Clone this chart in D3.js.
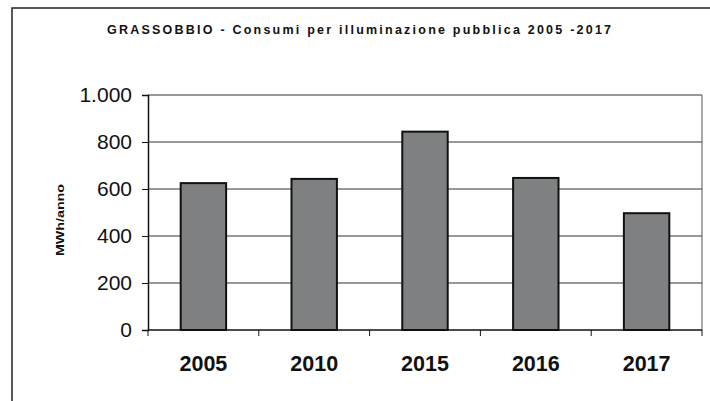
<!DOCTYPE html>
<html><head><meta charset="utf-8">
<script src="https://cdn.jsdelivr.net/npm/d3@7"></script>
<style>body{margin:0;background:#fff}svg{display:block}</style>
</head><body>
<script>
const categories = ["2005","2010","2015","2016","2017"];
const values = [625, 643, 844, 647, 497];
const yTicks = [0,200,400,600,800,1000];
const titleText = "GRASSOBBIO - Consumi per illuminazione pubblica 2005 -2017";
const yLabel = "MWh/anno";

const W=710,H=401;
const svg=d3.select("body").append("svg").attr("width",W).attr("height",H);
const m={left:148,right:702,top:95,bottom:330};

// outer frame
svg.append("rect").attr("x",12).attr("y",8).attr("width",720).attr("height",420)
  .attr("fill","#fff").attr("stroke","#222").attr("stroke-width",1.5);

svg.append("text").attr("x",359).attr("y",33.5).attr("text-anchor","middle")
  .attr("font-family","Liberation Sans, Arial, sans-serif").attr("font-weight","bold")
  .attr("font-size",12.5).attr("fill","#111")
  .attr("textLength",504).attr("lengthAdjust","spacing").text(titleText);

const x=d3.scaleBand().domain(categories).range([m.left,m.right]).paddingInner(0.59).paddingOuter(0.295);
const y=d3.scaleLinear().domain([0,1000]).range([m.bottom,m.top]);

// gridlines
svg.append("g").selectAll("line").data(yTicks.filter(d=>d>0)).join("line")
  .attr("x1",m.left).attr("x2",m.right).attr("y1",d=>y(d)).attr("y2",d=>y(d))
  .attr("stroke","#333").attr("stroke-width",1);
// right border
svg.append("line").attr("x1",m.right).attr("x2",m.right).attr("y1",m.top).attr("y2",m.bottom)
  .attr("stroke","#555").attr("stroke-width",1);

// bars
svg.append("g").selectAll("rect").data(values).join("rect")
  .attr("x",(d,i)=>x(categories[i])).attr("width",x.bandwidth())
  .attr("y",d=>y(d)).attr("height",d=>y(0)-y(d))
  .attr("fill","#7e8081").attr("stroke","#111").attr("stroke-width",2);

// y axis
const ya=svg.append("g").attr("transform",`translate(${m.left},0)`)
  .call(d3.axisLeft(y).tickValues(yTicks).tickSize(6).tickPadding(10)
    .tickFormat(d=>d3.format(",")(d).replace(/,/g,".")));
ya.select(".domain").attr("stroke","#111").attr("stroke-width",1.5);
ya.selectAll(".tick line").attr("stroke","#111");
ya.selectAll("text").attr("font-family","Liberation Sans, Arial, sans-serif").attr("font-size",21).attr("fill","#111");

// x axis
const xa=svg.append("g").attr("transform",`translate(0,${m.bottom})`);
xa.append("line").attr("x1",m.left).attr("x2",m.right).attr("stroke","#111").attr("stroke-width",1.5);
const bounds=categories.map(c=>x(c)-x.step()*x.paddingInner()/2).concat([m.right]);
bounds[0]=m.left;
xa.selectAll("line.t").data(bounds).join("line").attr("class","t")
  .attr("x1",d=>d).attr("x2",d=>d).attr("y1",0).attr("y2",6).attr("stroke","#111");
xa.selectAll("text").data(categories).join("text")
  .attr("x",d=>x(d)+x.bandwidth()/2).attr("y",41).attr("text-anchor","middle")
  .attr("font-family","Liberation Sans, Arial, sans-serif").attr("font-weight","bold")
  .attr("font-size",21.5).attr("fill","#111").text(d=>d);

svg.append("text").attr("transform","translate(64,220) rotate(-90)").attr("text-anchor","middle")
  .attr("font-family","Liberation Sans, Arial, sans-serif").attr("font-weight","bold")
  .attr("font-size",10).attr("fill","#111").attr("textLength",72).attr("lengthAdjust","spacingAndGlyphs")
  .text(yLabel);
</script>
</body></html>
